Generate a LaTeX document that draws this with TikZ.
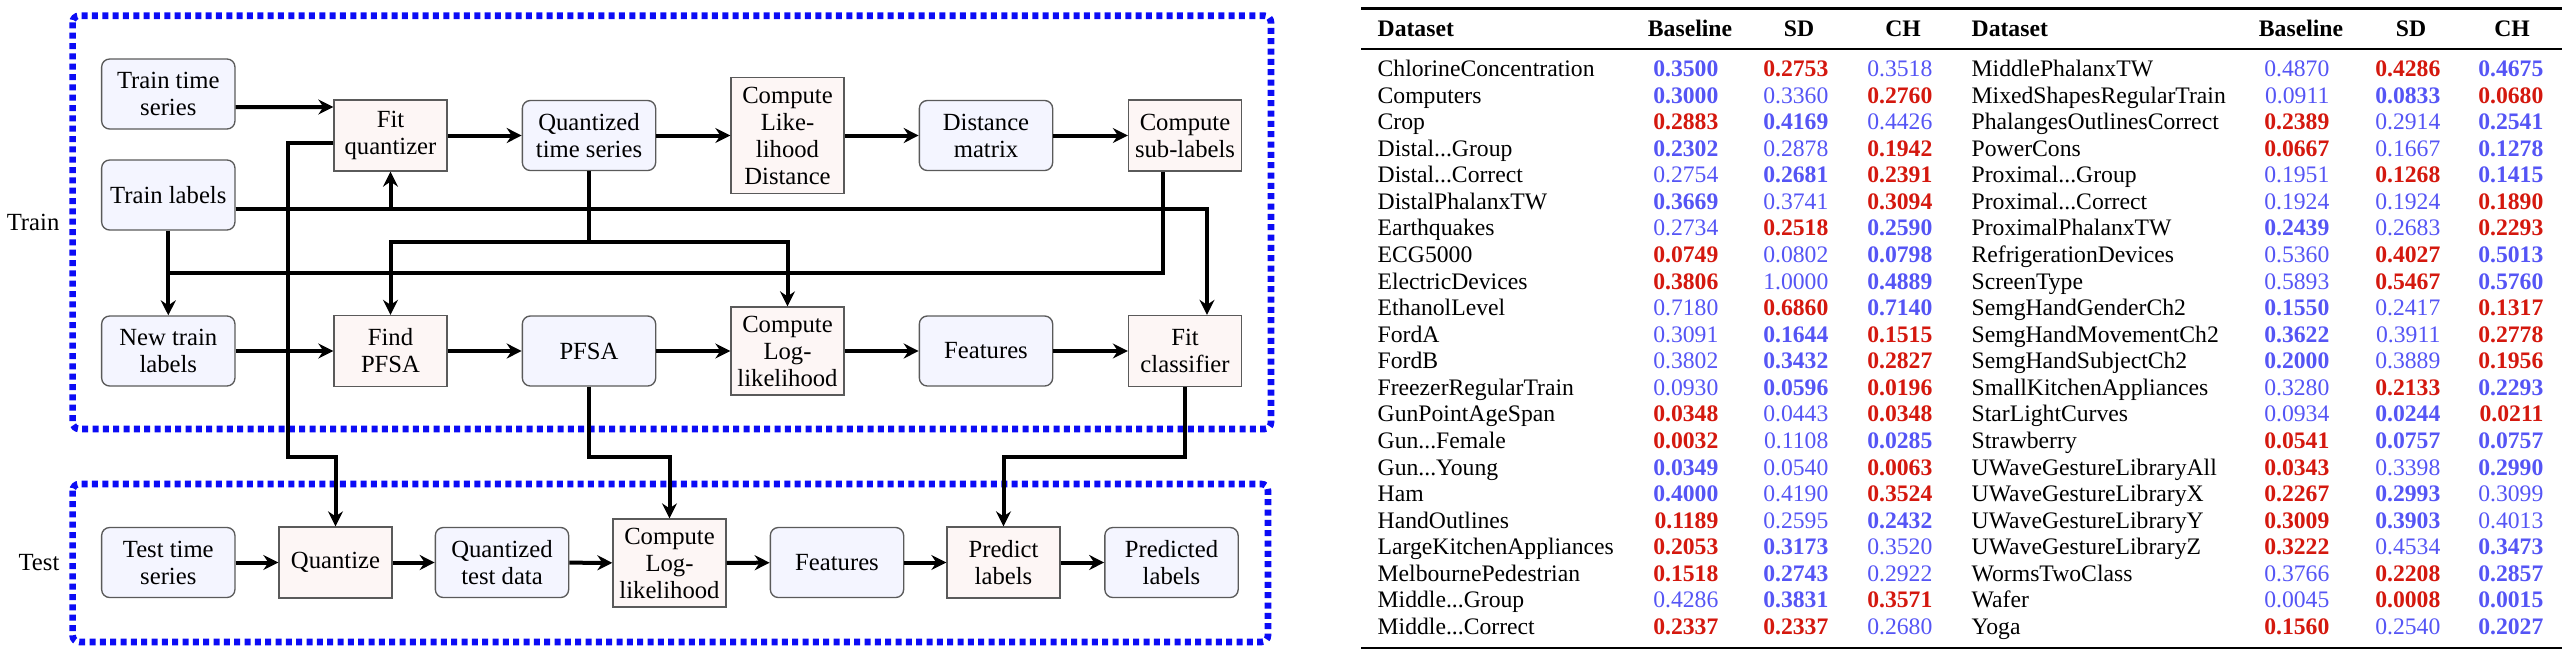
\documentclass[tikz,border=0pt]{standalone}
\usepackage{fontspec}
\setmainfont{Liberation Serif}
\usetikzlibrary{arrows.meta}

\definecolor{phaseblue}{RGB}{12,12,245}
\definecolor{datafill}{RGB}{244,245,255}
\definecolor{procfill}{RGB}{253,246,245}
\definecolor{boxline}{RGB}{90,90,90}
\definecolor{bestred}{RGB}{212,24,14}
\definecolor{goodblue}{RGB}{85,85,245}

\newcommand{\cellred}[1]{\textcolor{bestred}{\textbf{#1}}}
\newcommand{\cellblue}[1]{\textcolor{goodblue}{\textbf{#1}}}
\newcommand{\cellplain}[1]{\textcolor{goodblue}{#1}}
\newcommand{\elide}{...}

\begin{document}
\begin{tikzpicture}[x=0.3pt,y=0.3pt,yscale=-1,
    datanode/.style={draw=boxline, fill=datafill, rounded corners=2.4pt, line width=0.4pt, minimum width=40pt, minimum height=21pt, align=center, inner sep=1pt, font=\fontsize{7.4}{8.1}\selectfont},
    procnode/.style={draw=boxline, fill=procfill, line width=0.4pt, minimum width=33.9pt, minimum height=21.3pt, align=center, inner sep=1pt, font=\fontsize{7.4}{8.1}\selectfont},
    flow/.style={line width=1.2pt, -{Stealth[length=4.5pt,width=4.5pt,inset=1.5pt]}},
    wire/.style={line width=1.2pt},
    phase/.style={draw=phaseblue, line width=2pt, dash pattern=on 1.8pt off 1.3pt, rounded corners=2pt},
    hdr/.style={anchor=base, inner sep=0pt, font=\fontsize{7.1}{8}\selectfont\bfseries},
    dsname/.style={anchor=base west, inner sep=0pt, font=\fontsize{7.1}{8}\selectfont},
    valcell/.style={anchor=base east, inner sep=0pt, font=\fontsize{7.1}{8}\selectfont}]
    \useasboundingbox (0,0) rectangle (2569,654);

    % Stage frames
    \draw[phase] (72.6,15.7) rectangle (1271,429);
    \draw[phase] (72.6,484) rectangle (1268,642);
    \node[anchor=east, inner sep=0pt, font=\fontsize{7.4}{8.1}\selectfont] (trainlbl) at (60,222) {Train};
    \node[anchor=east, inner sep=0pt, font=\fontsize{7.4}{8.1}\selectfont] (testlbl) at (60,563) {Test};

    % Train stage
    \node[datanode] (tts) at (168.3,94) {Train time\\series};
    \node[datanode] (tl) at (168.3,195) {Train labels};
    \node[datanode] (ntl) at (168.3,351) {New train\\labels};
    \node[procnode] (fq) at (390.5,135.5) {Fit\\quantizer};
    \node[procnode] (fp) at (390.5,351) {Find\\PFSA};
    \node[datanode] (qts) at (589,135.5) {Quantized\\time series};
    \node[datanode] (pfsa) at (589,351) {PFSA};
    \node[procnode, minimum height=34.8pt] (cld) at (787.5,135.5) {Compute\\Like-\\lihood\\Distance};
    \node[procnode, minimum height=26.4pt] (cll) at (787.5,351) {Compute\\Log-\\likelihood};
    \node[datanode] (dm) at (986,135.5) {Distance\\matrix};
    \node[datanode] (feat) at (986,351) {Features};
    \node[procnode] (csl) at (1185,135.5) {Compute\\sub-labels};
    \node[procnode] (fc) at (1185,351) {Fit\\classifier};

    % Test stage
    \node[datanode] (tsts) at (168.3,562.5) {Test time\\series};
    \node[procnode] (qz) at (335.5,562.5) {Quantize};
    \node[datanode] (qtd) at (502,562.5) {Quantized\\test data};
    \node[procnode, minimum height=26.4pt] (tcll) at (669.5,563) {Compute\\Log-\\likelihood};
    \node[datanode] (tfeat) at (837,562.5) {Features};
    \node[procnode] (pl) at (1003.5,562.5) {Predict\\labels};
    \node[datanode] (pdl) at (1171.5,562.5) {Predicted\\labels};

    % Bends
    \coordinate (lblmid) at (168.3,273);
    \coordinate (qsplit) at (589,242);
    \coordinate (crossy) at (288,457);

    % Train connectors (yshift is flipped by yscale=-1)
    \draw[flow] ([yshift=3.9pt]tts.east) -- ([yshift=-8.55pt]fq.west);
    \draw[flow] (fq) -- (qts);
    \draw[flow] (qts) -- (cld);
    \draw[flow] (cld) -- (dm);
    \draw[flow] (dm) -- (csl);
    \draw[flow] ([yshift=4.2pt]tl.east) -| (fq.south);
    \draw[flow] ([yshift=4.2pt]tl.east) -| ([xshift=6.6pt]fc.north);
    \draw[flow] (tl) -- (ntl);
    \draw[wire] ([xshift=-6.6pt]csl.south) |- (lblmid);
    \draw[wire] (qts.south) -- (qsplit);
    \draw[flow] (qsplit) -| (fp.north);
    \draw[flow] (qsplit) -| (cll.north);
    \draw[flow] (ntl) -- (fp);
    \draw[flow] (fp) -- (pfsa);
    \draw[flow] (pfsa) -- (cll);
    \draw[flow] (cll) -- (feat);
    \draw[flow] (feat) -- (fc);

    % Train to test
    \draw[flow] ([yshift=2.25pt]fq.west) -| (crossy) -| (qz.north);
    \draw[flow] (pfsa.south) -- (pfsa.south |- crossy) -| (tcll.north);
    \draw[flow] (fc.south) -- (fc.south |- crossy) -| (pl.north);

    % Test connectors
    \draw[flow] (tsts) -- (qz);
    \draw[flow] (qz) -- (qtd);
    \draw[flow] (qtd) -- (tcll);
    \draw[flow] (tcll) -- (tfeat);
    \draw[flow] (tfeat) -- (pl);
    \draw[flow] (pl) -- (pdl);

    % Results table
    \draw[line width=0.8pt] (1361,8.3) -- (2562,8.3);
    \draw[line width=0.5pt] (1361,49) -- (2562,49);
    \draw[line width=0.8pt] (1361,648) -- (2562,648);
    \node[hdr, anchor=base west] (lhds) at (1377,36) {Dataset};
    \node[hdr] (lhbl) at (1690,36) {Baseline};
    \node[hdr] (lhsd) at (1799,36) {SD};
    \node[hdr] (lhch) at (1903,36) {CH};
    \node[hdr, anchor=base west] (rhds) at (1971,36) {Dataset};
    \node[hdr] (rhbl) at (2301,36) {Baseline};
    \node[hdr] (rhsd) at (2411,36) {SD};
    \node[hdr] (rhch) at (2512,36) {CH};

    \foreach \dsn/\vb/\vs/\vc [count=\i] in {
        ChlorineConcentration/\cellblue{0.3500}/\cellred{0.2753}/\cellplain{0.3518},
        Computers/\cellblue{0.3000}/\cellplain{0.3360}/\cellred{0.2760},
        Crop/\cellred{0.2883}/\cellblue{0.4169}/\cellplain{0.4426},
        Distal\elide Group/\cellblue{0.2302}/\cellplain{0.2878}/\cellred{0.1942},
        Distal\elide Correct/\cellplain{0.2754}/\cellblue{0.2681}/\cellred{0.2391},
        DistalPhalanxTW/\cellblue{0.3669}/\cellplain{0.3741}/\cellred{0.3094},
        Earthquakes/\cellplain{0.2734}/\cellred{0.2518}/\cellblue{0.2590},
        ECG5000/\cellred{0.0749}/\cellplain{0.0802}/\cellblue{0.0798},
        ElectricDevices/\cellred{0.3806}/\cellplain{1.0000}/\cellblue{0.4889},
        EthanolLevel/\cellplain{0.7180}/\cellred{0.6860}/\cellblue{0.7140},
        FordA/\cellplain{0.3091}/\cellblue{0.1644}/\cellred{0.1515},
        FordB/\cellplain{0.3802}/\cellblue{0.3432}/\cellred{0.2827},
        FreezerRegularTrain/\cellplain{0.0930}/\cellblue{0.0596}/\cellred{0.0196},
        GunPointAgeSpan/\cellred{0.0348}/\cellplain{0.0443}/\cellred{0.0348},
        Gun\elide Female/\cellred{0.0032}/\cellplain{0.1108}/\cellblue{0.0285},
        Gun\elide Young/\cellblue{0.0349}/\cellplain{0.0540}/\cellred{0.0063},
        Ham/\cellblue{0.4000}/\cellplain{0.4190}/\cellred{0.3524},
        HandOutlines/\cellred{0.1189}/\cellplain{0.2595}/\cellblue{0.2432},
        LargeKitchenAppliances/\cellred{0.2053}/\cellblue{0.3173}/\cellplain{0.3520},
        MelbournePedestrian/\cellred{0.1518}/\cellblue{0.2743}/\cellplain{0.2922},
        Middle\elide Group/\cellplain{0.4286}/\cellblue{0.3831}/\cellred{0.3571},
        Middle\elide Correct/\cellred{0.2337}/\cellred{0.2337}/\cellplain{0.2680}}{
        \node[dsname] (ln\i) at (1377,{76.5+26.57*(\i-1)}) {\dsn};
        \node[valcell] (lb\i) at (1719,{76.5+26.57*(\i-1)}) {\vb};
        \node[valcell] (ls\i) at (1829,{76.5+26.57*(\i-1)}) {\vs};
        \node[valcell] (lc\i) at (1933,{76.5+26.57*(\i-1)}) {\vc};
    }

    \foreach \dsn/\vb/\vs/\vc [count=\i] in {
        MiddlePhalanxTW/\cellplain{0.4870}/\cellred{0.4286}/\cellblue{0.4675},
        MixedShapesRegularTrain/\cellplain{0.0911}/\cellblue{0.0833}/\cellred{0.0680},
        PhalangesOutlinesCorrect/\cellred{0.2389}/\cellplain{0.2914}/\cellblue{0.2541},
        PowerCons/\cellred{0.0667}/\cellplain{0.1667}/\cellblue{0.1278},
        Proximal\elide Group/\cellplain{0.1951}/\cellred{0.1268}/\cellblue{0.1415},
        Proximal\elide Correct/\cellplain{0.1924}/\cellplain{0.1924}/\cellred{0.1890},
        ProximalPhalanxTW/\cellblue{0.2439}/\cellplain{0.2683}/\cellred{0.2293},
        RefrigerationDevices/\cellplain{0.5360}/\cellred{0.4027}/\cellblue{0.5013},
        ScreenType/\cellplain{0.5893}/\cellred{0.5467}/\cellblue{0.5760},
        SemgHandGenderCh2/\cellblue{0.1550}/\cellplain{0.2417}/\cellred{0.1317},
        SemgHandMovementCh2/\cellblue{0.3622}/\cellplain{0.3911}/\cellred{0.2778},
        SemgHandSubjectCh2/\cellblue{0.2000}/\cellplain{0.3889}/\cellred{0.1956},
        SmallKitchenAppliances/\cellplain{0.3280}/\cellred{0.2133}/\cellblue{0.2293},
        StarLightCurves/\cellplain{0.0934}/\cellblue{0.0244}/\cellred{0.0211},
        Strawberry/\cellred{0.0541}/\cellblue{0.0757}/\cellblue{0.0757},
        UWaveGestureLibraryAll/\cellred{0.0343}/\cellplain{0.3398}/\cellblue{0.2990},
        UWaveGestureLibraryX/\cellred{0.2267}/\cellblue{0.2993}/\cellplain{0.3099},
        UWaveGestureLibraryY/\cellred{0.3009}/\cellblue{0.3903}/\cellplain{0.4013},
        UWaveGestureLibraryZ/\cellred{0.3222}/\cellplain{0.4534}/\cellblue{0.3473},
        WormsTwoClass/\cellplain{0.3766}/\cellred{0.2208}/\cellblue{0.2857},
        Wafer/\cellplain{0.0045}/\cellred{0.0008}/\cellblue{0.0015},
        Yoga/\cellred{0.1560}/\cellplain{0.2540}/\cellblue{0.2027}}{
        \node[dsname] (rn\i) at (1971,{76.5+26.57*(\i-1)}) {\dsn};
        \node[valcell] (rb\i) at (2330,{76.5+26.57*(\i-1)}) {\vb};
        \node[valcell] (rs\i) at (2441,{76.5+26.57*(\i-1)}) {\vs};
        \node[valcell] (rc\i) at (2544,{76.5+26.57*(\i-1)}) {\vc};
    }

\end{tikzpicture}
\end{document}
